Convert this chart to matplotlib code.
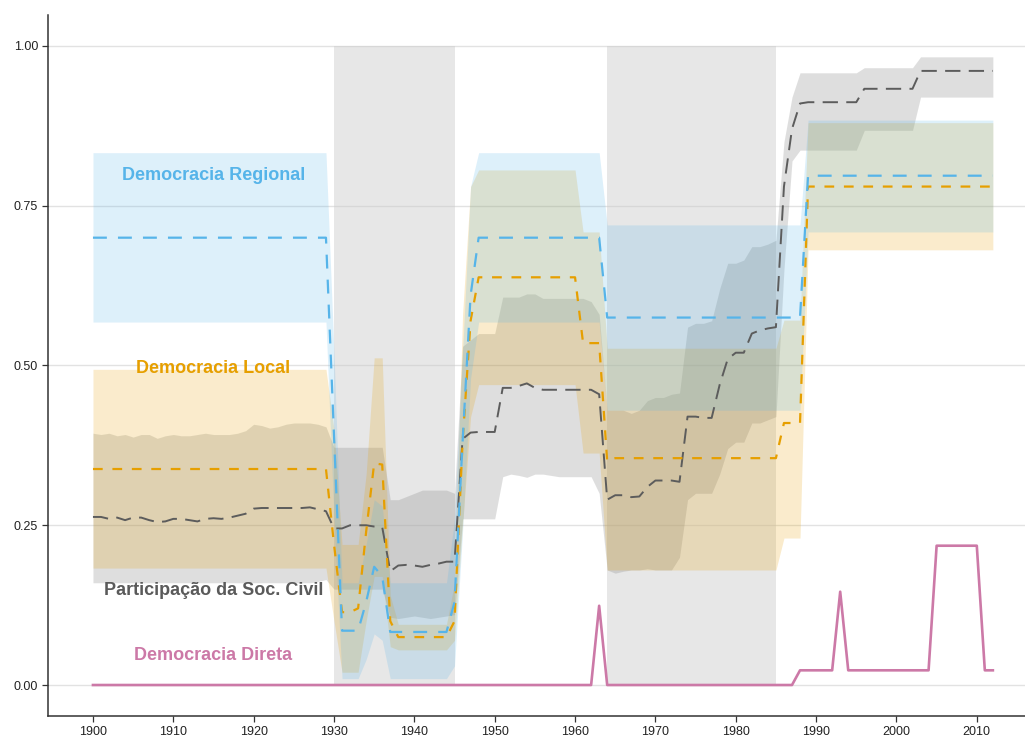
import matplotlib
matplotlib.use("Agg")
import matplotlib.pyplot as plt

plt.rcParams['font.family'] = ['Liberation Sans', 'DejaVu Sans']
plt.rcParams['lines.scale_dashes'] = False

# --- data, one value per year 1900-2012 ---
years = list(range(1900, 2013))

# Democracia Regional
reg_mean = [
    0.70, 0.70, 0.70, 0.70, 0.70, 0.70, 0.70, 0.70, 0.70, 0.70,
    0.70, 0.70, 0.70, 0.70, 0.70, 0.70, 0.70, 0.70, 0.70, 0.70,
    0.70, 0.70, 0.70, 0.70, 0.70, 0.70, 0.70, 0.70, 0.70, 0.70,
    0.39, 0.085, 0.085, 0.085, 0.13, 0.185, 0.17, 0.083, 0.083, 0.083,
    0.083, 0.083, 0.083, 0.083, 0.083, 0.13, 0.38, 0.61, 0.70, 0.70,
    0.70, 0.70, 0.70, 0.70, 0.70, 0.70, 0.70, 0.70, 0.70, 0.70,
    0.70, 0.70, 0.70, 0.70, 0.575, 0.575, 0.575, 0.575, 0.575, 0.575,
    0.575, 0.575, 0.575, 0.575, 0.575, 0.575, 0.575, 0.575, 0.575, 0.575,
    0.575, 0.575, 0.575, 0.575, 0.575, 0.575, 0.575, 0.575, 0.575, 0.797,
    0.797, 0.797, 0.797, 0.797, 0.797, 0.797, 0.797, 0.797, 0.797, 0.797,
    0.797, 0.797, 0.797, 0.797, 0.797, 0.797, 0.797, 0.797, 0.797, 0.797,
    0.797, 0.797, 0.797]
reg_lo = [
    0.568, 0.568, 0.568, 0.568, 0.568, 0.568, 0.568, 0.568, 0.568, 0.568,
    0.568, 0.568, 0.568, 0.568, 0.568, 0.568, 0.568, 0.568, 0.568, 0.568,
    0.568, 0.568, 0.568, 0.568, 0.568, 0.568, 0.568, 0.568, 0.568, 0.568,
    0.26, 0.01, 0.01, 0.01, 0.04, 0.08, 0.07, 0.01, 0.01, 0.01,
    0.01, 0.01, 0.01, 0.01, 0.01, 0.03, 0.24, 0.48, 0.568, 0.568,
    0.568, 0.568, 0.568, 0.568, 0.568, 0.568, 0.568, 0.568, 0.568, 0.568,
    0.568, 0.568, 0.568, 0.568, 0.43, 0.43, 0.43, 0.43, 0.43, 0.43,
    0.43, 0.43, 0.43, 0.43, 0.43, 0.43, 0.43, 0.43, 0.43, 0.43,
    0.43, 0.43, 0.43, 0.43, 0.43, 0.43, 0.43, 0.43, 0.43, 0.709,
    0.709, 0.709, 0.709, 0.709, 0.709, 0.709, 0.709, 0.709, 0.709, 0.709,
    0.709, 0.709, 0.709, 0.709, 0.709, 0.709, 0.709, 0.709, 0.709, 0.709,
    0.709, 0.709, 0.709]
reg_hi = [
    0.833, 0.833, 0.833, 0.833, 0.833, 0.833, 0.833, 0.833, 0.833, 0.833,
    0.833, 0.833, 0.833, 0.833, 0.833, 0.833, 0.833, 0.833, 0.833, 0.833,
    0.833, 0.833, 0.833, 0.833, 0.833, 0.833, 0.833, 0.833, 0.833, 0.833,
    0.52, 0.16, 0.16, 0.16, 0.22, 0.29, 0.28, 0.16, 0.16, 0.16,
    0.16, 0.16, 0.16, 0.16, 0.16, 0.26, 0.52, 0.78, 0.833, 0.833,
    0.833, 0.833, 0.833, 0.833, 0.833, 0.833, 0.833, 0.833, 0.833, 0.833,
    0.833, 0.833, 0.833, 0.833, 0.72, 0.72, 0.72, 0.72, 0.72, 0.72,
    0.72, 0.72, 0.72, 0.72, 0.72, 0.72, 0.72, 0.72, 0.72, 0.72,
    0.72, 0.72, 0.72, 0.72, 0.72, 0.72, 0.72, 0.72, 0.72, 0.884,
    0.884, 0.884, 0.884, 0.884, 0.884, 0.884, 0.884, 0.884, 0.884, 0.884,
    0.884, 0.884, 0.884, 0.884, 0.884, 0.884, 0.884, 0.884, 0.884, 0.884,
    0.884, 0.884, 0.884]

# Democracia Local
loc_mean = [
    0.338, 0.338, 0.338, 0.338, 0.338, 0.338, 0.338, 0.338, 0.338, 0.338,
    0.338, 0.338, 0.338, 0.338, 0.338, 0.338, 0.338, 0.338, 0.338, 0.338,
    0.338, 0.338, 0.338, 0.338, 0.338, 0.338, 0.338, 0.338, 0.338, 0.338,
    0.22, 0.114, 0.114, 0.12, 0.24, 0.347, 0.345, 0.10, 0.075, 0.075,
    0.075, 0.075, 0.075, 0.075, 0.075, 0.10, 0.38, 0.57, 0.638, 0.638,
    0.638, 0.638, 0.638, 0.638, 0.638, 0.638, 0.638, 0.638, 0.638, 0.638,
    0.638, 0.535, 0.535, 0.535, 0.35, 0.355, 0.355, 0.355, 0.355, 0.355,
    0.355, 0.355, 0.355, 0.355, 0.355, 0.355, 0.355, 0.355, 0.355, 0.355,
    0.355, 0.355, 0.355, 0.355, 0.355, 0.355, 0.41, 0.41, 0.41, 0.78,
    0.78, 0.78, 0.78, 0.78, 0.78, 0.78, 0.78, 0.78, 0.78, 0.78,
    0.78, 0.78, 0.78, 0.78, 0.78, 0.78, 0.78, 0.78, 0.78, 0.78,
    0.78, 0.78, 0.78]
loc_lo = [
    0.183, 0.183, 0.183, 0.183, 0.183, 0.183, 0.183, 0.183, 0.183, 0.183,
    0.183, 0.183, 0.183, 0.183, 0.183, 0.183, 0.183, 0.183, 0.183, 0.183,
    0.183, 0.183, 0.183, 0.183, 0.183, 0.183, 0.183, 0.183, 0.183, 0.183,
    0.10, 0.02, 0.02, 0.02, 0.10, 0.17, 0.17, 0.06, 0.055, 0.055,
    0.055, 0.055, 0.055, 0.055, 0.055, 0.07, 0.25, 0.42, 0.47, 0.47,
    0.47, 0.47, 0.47, 0.47, 0.47, 0.47, 0.47, 0.47, 0.47, 0.47,
    0.47, 0.363, 0.363, 0.363, 0.18, 0.18, 0.18, 0.18, 0.18, 0.18,
    0.18, 0.18, 0.18, 0.18, 0.18, 0.18, 0.18, 0.18, 0.18, 0.18,
    0.18, 0.18, 0.18, 0.18, 0.18, 0.18, 0.23, 0.23, 0.23, 0.681,
    0.681, 0.681, 0.681, 0.681, 0.681, 0.681, 0.681, 0.681, 0.681, 0.681,
    0.681, 0.681, 0.681, 0.681, 0.681, 0.681, 0.681, 0.681, 0.681, 0.681,
    0.681, 0.681, 0.681]
loc_hi = [
    0.494, 0.494, 0.494, 0.494, 0.494, 0.494, 0.494, 0.494, 0.494, 0.494,
    0.494, 0.494, 0.494, 0.494, 0.494, 0.494, 0.494, 0.494, 0.494, 0.494,
    0.494, 0.494, 0.494, 0.494, 0.494, 0.494, 0.494, 0.494, 0.494, 0.494,
    0.40, 0.22, 0.22, 0.22, 0.33, 0.512, 0.512, 0.14, 0.095, 0.095,
    0.095, 0.095, 0.095, 0.095, 0.095, 0.16, 0.58, 0.78, 0.806, 0.806,
    0.806, 0.806, 0.806, 0.806, 0.806, 0.806, 0.806, 0.806, 0.806, 0.806,
    0.806, 0.709, 0.709, 0.709, 0.527, 0.527, 0.527, 0.527, 0.527, 0.527,
    0.527, 0.527, 0.527, 0.527, 0.527, 0.527, 0.527, 0.527, 0.527, 0.527,
    0.527, 0.527, 0.527, 0.527, 0.527, 0.527, 0.571, 0.571, 0.571, 0.88,
    0.88, 0.88, 0.88, 0.88, 0.88, 0.88, 0.88, 0.88, 0.88, 0.88,
    0.88, 0.88, 0.88, 0.88, 0.88, 0.88, 0.88, 0.88, 0.88, 0.88,
    0.88, 0.88, 0.88]

# Participação da Soc. Civil
civ_mean = [
    0.263, 0.263, 0.260, 0.262, 0.258, 0.262, 0.262, 0.258, 0.255, 0.256,
    0.260, 0.260, 0.258, 0.256, 0.260, 0.261, 0.260, 0.262, 0.265, 0.268,
    0.276, 0.277, 0.277, 0.277, 0.277, 0.277, 0.277, 0.278, 0.275, 0.272,
    0.245, 0.245, 0.250, 0.250, 0.250, 0.248, 0.247, 0.178, 0.187, 0.188,
    0.187, 0.185, 0.188, 0.190, 0.193, 0.193, 0.385, 0.395, 0.396, 0.396,
    0.396, 0.465, 0.465, 0.468, 0.472, 0.465, 0.462, 0.462, 0.462, 0.462,
    0.462, 0.462, 0.462, 0.455, 0.290, 0.297, 0.297, 0.294, 0.295, 0.310,
    0.320, 0.320, 0.320, 0.318, 0.420, 0.420, 0.418, 0.418, 0.470, 0.510,
    0.520, 0.520, 0.550, 0.555, 0.558, 0.560, 0.780, 0.870, 0.910, 0.912,
    0.912, 0.912, 0.912, 0.912, 0.912, 0.912, 0.933, 0.933, 0.933, 0.933,
    0.933, 0.933, 0.933, 0.961, 0.961, 0.961, 0.961, 0.961, 0.961, 0.961,
    0.961, 0.961, 0.961]
civ_lo = [
    0.160, 0.160, 0.160, 0.160, 0.160, 0.160, 0.160, 0.160, 0.160, 0.160,
    0.160, 0.160, 0.160, 0.160, 0.160, 0.160, 0.160, 0.160, 0.160, 0.160,
    0.160, 0.160, 0.160, 0.160, 0.160, 0.160, 0.160, 0.160, 0.162, 0.165,
    0.15, 0.15, 0.15, 0.15, 0.15, 0.15, 0.15, 0.106, 0.104, 0.106,
    0.108, 0.106, 0.104, 0.106, 0.108, 0.11, 0.26, 0.26, 0.26, 0.26,
    0.26, 0.326, 0.33, 0.328, 0.325, 0.33, 0.33, 0.328, 0.326, 0.326,
    0.326, 0.326, 0.326, 0.30, 0.18, 0.175, 0.178, 0.18, 0.18, 0.182,
    0.18, 0.18, 0.18, 0.20, 0.29, 0.30, 0.30, 0.30, 0.33, 0.37,
    0.38, 0.38, 0.41, 0.41, 0.415, 0.42, 0.65, 0.82, 0.837, 0.837,
    0.837, 0.837, 0.837, 0.837, 0.837, 0.837, 0.868, 0.868, 0.868, 0.868,
    0.868, 0.868, 0.868, 0.92, 0.92, 0.92, 0.92, 0.92, 0.92, 0.92,
    0.92, 0.92, 0.92]
civ_hi = [
    0.394, 0.392, 0.394, 0.390, 0.392, 0.388, 0.392, 0.392, 0.386, 0.390,
    0.392, 0.390, 0.390, 0.392, 0.394, 0.392, 0.392, 0.392, 0.394, 0.398,
    0.408, 0.406, 0.402, 0.404, 0.408, 0.410, 0.410, 0.410, 0.408, 0.404,
    0.372, 0.372, 0.372, 0.372, 0.372, 0.372, 0.372, 0.29, 0.29, 0.295,
    0.30, 0.305, 0.305, 0.305, 0.305, 0.30, 0.53, 0.54, 0.55, 0.55,
    0.55, 0.607, 0.607, 0.607, 0.612, 0.612, 0.605, 0.605, 0.605, 0.605,
    0.605, 0.605, 0.60, 0.58, 0.43, 0.43, 0.43, 0.425, 0.43, 0.445,
    0.45, 0.45, 0.455, 0.457, 0.56, 0.566, 0.566, 0.57, 0.62, 0.66,
    0.66, 0.665, 0.686, 0.686, 0.69, 0.696, 0.85, 0.92, 0.958, 0.958,
    0.958, 0.958, 0.958, 0.958, 0.958, 0.958, 0.966, 0.966, 0.966, 0.966,
    0.966, 0.966, 0.966, 0.983, 0.983, 0.983, 0.983, 0.983, 0.983, 0.983,
    0.983, 0.983, 0.983]

# Democracia Direta
dir_mean = [
    0, 0, 0, 0, 0, 0, 0, 0, 0, 0,
    0, 0, 0, 0, 0, 0, 0, 0, 0, 0,
    0, 0, 0, 0, 0, 0, 0, 0, 0, 0,
    0, 0, 0, 0, 0, 0, 0, 0, 0, 0,
    0, 0, 0, 0, 0, 0, 0, 0, 0, 0,
    0, 0, 0, 0, 0, 0, 0, 0, 0, 0,
    0, 0, 0, 0.124, 0, 0, 0, 0, 0, 0,
    0, 0, 0, 0, 0, 0, 0, 0, 0, 0,
    0, 0, 0, 0, 0, 0, 0, 0, 0.023, 0.023,
    0.023, 0.023, 0.023, 0.146, 0.023, 0.023, 0.023, 0.023, 0.023, 0.023,
    0.023, 0.023, 0.023, 0.023, 0.023, 0.218, 0.218, 0.218, 0.218, 0.218,
    0.218, 0.023, 0.023]

# shaded periods (authoritarian regimes)
periods = [(1930, 1945), (1964, 1985)]

x_ticks = [1900, 1910, 1920, 1930, 1940, 1950, 1960, 1970, 1980, 1990, 2000, 2010]
y_ticks = [0.0, 0.25, 0.5, 0.75, 1.0]
y_tick_labels = ['0.00', '0.25', '0.50', '0.75', '1.00']

c_reg = '#56B4E9'
c_loc = '#E69F00'
c_civ = '#5c5c5c'
c_dir = '#CC79A7'

fig = plt.figure(figsize=(10.25, 7.38), dpi=100)
ax = fig.add_axes([0.0468, 0.0298, 0.9532, 0.9499])

# shaded periods
for start, end in periods:
    ax.fill_between([start, end], [0, 0], [1, 1], color='#c8c8c8', alpha=0.42, lw=0, zorder=1)

# confidence ribbons
ax.fill_between(years, civ_lo, civ_hi, color='#7f7f7f', alpha=0.25, lw=0, zorder=2)
ax.fill_between(years, loc_lo, loc_hi, color=c_loc, alpha=0.2, lw=0, zorder=2)
ax.fill_between(years, reg_lo, reg_hi, color=c_reg, alpha=0.2, lw=0, zorder=2)

# lines
ax.plot(years, civ_mean, color=c_civ, lw=1.4, dashes=(11, 6), zorder=3)
ax.plot(years, loc_mean, color=c_loc, lw=1.6, dashes=(7, 7), zorder=3)
ax.plot(years, reg_mean, color=c_reg, lw=1.6, dashes=(10, 8), zorder=3)
ax.plot(years, dir_mean, color=c_dir, lw=1.9, zorder=4)

# series labels
ax.text(1915, 0.797, 'Democracia Regional', color=c_reg, fontsize=13, fontweight='bold', ha='center', va='center')
ax.text(1915, 0.496, 'Democracia Local', color=c_loc, fontsize=13, fontweight='bold', ha='center', va='center')
ax.text(1915, 0.148, 'Participação da Soc. Civil', color='#5a5a5a', fontsize=13, fontweight='bold', ha='center', va='center')
ax.text(1915, 0.046, 'Democracia Direta', color=c_dir, fontsize=13, fontweight='bold', ha='center', va='center')

# axes styling
ax.set_xlim(1894.4, 2016)
ax.set_ylim(-0.0485, 1.0485)
ax.set_xticks(x_ticks)
ax.set_yticks(y_ticks)
ax.set_yticklabels(y_tick_labels)
ax.tick_params(axis='both', labelsize=9, length=4, width=0.9, color='#333333', labelcolor='#222222', pad=3)
ax.yaxis.grid(True, color='#e2e2e2', lw=1.0)
ax.set_axisbelow(True)
ax.spines['top'].set_visible(False)
ax.spines['right'].set_visible(False)
ax.spines['left'].set_color('#333333')
ax.spines['bottom'].set_color('#333333')
ax.spines['left'].set_linewidth(1.1)
ax.spines['bottom'].set_linewidth(1.1)

fig.savefig('out.png', dpi=100)
